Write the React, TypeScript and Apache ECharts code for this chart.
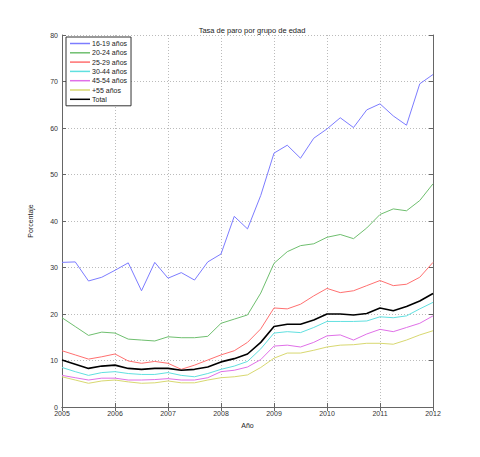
import React, { useEffect, useRef } from "react";
import * as echarts from "echarts";

const startYear = 2005;
const seriesNames = ["16-19 años", "20-24 años", "25-29 años", "30-44 años", "45-54 años", "+55 años", "Total"];
const colors = ["#7c7cff", "#6fbf6f", "#ff7070", "#60e0e0", "#e070e8", "#d8d870", "#000000"];

const s1619 = [31.1, 31.2, 27.1, 27.9, 29.4, 31.0, 25.0, 31.1, 27.7, 28.9, 27.3, 31.2, 32.9, 41.0, 38.3, 45.5,
  54.6, 56.3, 53.5, 57.8, 59.8, 62.2, 60.1, 63.9, 65.2, 62.6, 60.6, 69.5, 71.5];
const s2024 = [19.2, 17.3, 15.4, 16.1, 15.9, 14.6, 14.4, 14.2, 15.1, 14.9, 14.9, 15.2, 18.0, 18.9, 19.8, 24.5,
  30.9, 33.4, 34.7, 35.1, 36.5, 37.1, 36.2, 38.5, 41.4, 42.6, 42.2, 44.4, 48.0];
const s2529 = [12.1, 11.2, 10.3, 10.8, 11.4, 9.9, 9.4, 9.8, 9.4, 8.1, 9.0, 10.1, 11.2, 12.1, 13.9, 16.8,
  21.3, 21.1, 22.1, 23.9, 25.5, 24.6, 25.0, 26.1, 27.2, 26.1, 26.4, 27.9, 31.1];
const s3044 = [8.5, 7.6, 6.8, 7.4, 7.6, 7.2, 7.0, 7.0, 7.4, 6.8, 6.5, 7.2, 8.1, 8.8, 9.8, 12.5,
  15.9, 16.2, 16.0, 17.1, 18.4, 18.4, 18.4, 18.5, 19.4, 19.2, 19.6, 21.1, 22.5];
const s4554 = [6.8, 6.3, 5.8, 6.2, 6.2, 5.8, 5.8, 5.9, 6.1, 5.8, 5.8, 6.3, 7.6, 7.9, 8.6, 10.2,
  13.1, 13.3, 12.9, 13.9, 15.3, 15.5, 14.4, 15.7, 16.7, 16.2, 17.1, 18.0, 19.6];
const s55 = [6.5, 5.8, 5.1, 5.6, 5.8, 5.4, 5.1, 5.2, 5.6, 5.2, 5.2, 5.8, 6.3, 6.5, 6.9, 8.5,
  10.5, 11.6, 11.6, 12.2, 12.9, 13.3, 13.4, 13.7, 13.7, 13.5, 14.4, 15.5, 16.4];
const sTotal = [10.1, 9.2, 8.3, 8.8, 9.0, 8.3, 8.1, 8.3, 8.3, 7.9, 8.1, 8.6, 9.7, 10.4, 11.4, 13.9,
  17.3, 17.8, 17.8, 18.7, 20.0, 20.0, 19.8, 20.1, 21.3, 20.7, 21.6, 22.8, 24.4];

const allSeries = [s1619, s2024, s2529, s3044, s4554, s55, sTotal];

export default function App() {
  const ref = useRef<HTMLDivElement>(null);
  useEffect(() => {
    if (!ref.current) return;
    const chart = echarts.init(ref.current, undefined, { renderer: "svg" });
    const font = "Liberation Sans";
    const axisCommon = {
      type: "value" as const,
      axisLine: { show: true, lineStyle: { color: "#666", width: 1 } },
      axisTick: { show: true, inside: true, length: 4, lineStyle: { color: "#666" } },
    };
    chart.setOption({
      animation: false,
      backgroundColor: "#fff",
      title: {
        text: "Tasa de paro por grupo de edad",
        left: 247,
        textAlign: "center",
        top: 21,
        textStyle: { fontSize: 7.5, fontWeight: "normal", color: "#222", fontFamily: font },
      },
      legend: {
        orient: "vertical",
        left: 66,
        top: 37,
        data: seriesNames,
        icon: "rect",
        itemWidth: 20,
        itemHeight: 1.5,
        itemGap: 2.3,
        padding: [3, 4, 3, 4],
        backgroundColor: "#fff",
        borderColor: "#333",
        borderWidth: 1,
        borderRadius: 0,
        inactiveColor: "#222",
        textStyle: { fontSize: 7, color: "#222", fontFamily: font, padding: [0, 0, 0, -3] },
      },
      grid: { left: 62, right: 47, top: 35, bottom: 50, containLabel: false },
      xAxis: [
        {
          ...axisCommon,
          min: 2005,
          max: 2012,
          interval: 1,
          name: "Año",
          nameLocation: "middle",
          nameGap: 15,
          nameTextStyle: { fontSize: 7, color: "#222", fontFamily: font },
          axisLabel: { fontSize: 7, color: "#333", fontFamily: font, margin: 3, formatter: (v: number) => String(v) },
          splitLine: { show: true, lineStyle: { color: "#bbb", type: [1, 2], width: 1 } },
        },
        {
          ...axisCommon,
          position: "top",
          min: 2005,
          max: 2012,
          interval: 1,
          axisLabel: { show: false },
          splitLine: { show: false },
        },
      ],
      yAxis: [
        {
          ...axisCommon,
          min: 0,
          max: 80,
          interval: 10,
          name: "Porcentaje",
          nameLocation: "middle",
          nameGap: 28,
          nameTextStyle: { fontSize: 7, color: "#222", fontFamily: font },
          axisLabel: { fontSize: 7, color: "#333", fontFamily: font, margin: 4 },
          splitLine: { show: true, lineStyle: { color: "#bbb", type: [1, 2], width: 1 } },
        },
        {
          ...axisCommon,
          position: "right",
          min: 0,
          max: 80,
          interval: 10,
          axisLabel: { show: false },
          splitLine: { show: false },
        },
      ],
      series: allSeries.map((vals, k) => ({
        name: seriesNames[k],
        type: "line",
        showSymbol: false,
        symbol: "none",
        z: k === 6 ? 5 : 3,
        data: vals.map((v, i) => [startYear + i * 0.25, v]),
        lineStyle: { color: colors[k], width: k === 6 ? 1.6 : 1 },
        itemStyle: { color: colors[k] },
      })),
    });
    return () => chart.dispose();
  }, []);
  return <div ref={ref} style={{ width: 480, height: 457, margin: -8 }} />;
}
